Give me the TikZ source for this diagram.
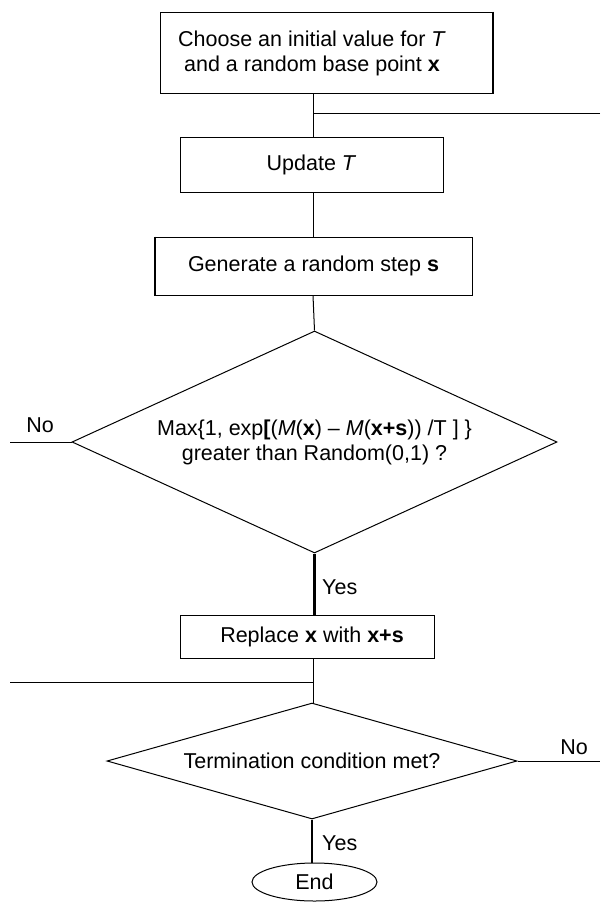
\documentclass[tikz,border=0pt]{standalone}
\usepackage{fontspec}
\setmainfont{Liberation Sans}
\usetikzlibrary{shapes.geometric}
\begin{document}
\begin{tikzpicture}[x=1pt,y=-1pt,
  every node/.style={font=\fontsize{21.5}{25}\selectfont},
  procbox/.style={draw, line width=1pt, rectangle, inner sep=0pt, align=center},
  plaintext/.style={inner sep=0pt, align=center},
  decision/.style={draw, line width=1pt, diamond, inner sep=0pt, align=center},
  term/.style={draw, line width=1pt, ellipse, inner sep=0pt},
  link/.style={line width=1pt},
  boldlink/.style={line width=2.5pt},
  heavyside/.style={line width=2pt},
  lbl/.style={inner sep=0pt, anchor=west},
  clbl/.style={inner sep=0pt}]
\useasboundingbox (0,0) rectangle (600,902);
\coordinate (spine) at (313,0);

% nodes
\node[procbox, minimum width=332pt, minimum height=81pt] (init) at (326,52.5) {};
\node[plaintext] (inittext) at (312,53)
  {Choose an initial value for \textit{T}\\and a random base point \textbf{x}};
\node[procbox, minimum width=263pt, minimum height=55pt] (upd) at (311.5,164.5)
  {Update \textit{T}};
\node[procbox, minimum width=317pt, minimum height=58pt] (gen) at (313.5,266)
  {Generate a random step \textbf{s}};
\node[decision, minimum width=485pt, minimum height=222pt, shape aspect=2.18] (acc) at (314.5,442)
  {Max\{1, exp\textbf{[}(\textit{M}(\textbf{x}) -- \textit{M}(\textbf{x+s})) /T ] \}\\greater than Random(0,1) ?};
\node[procbox, minimum width=254pt, minimum height=43pt] (rep) at (307,636.5) {};
\node[plaintext] (reptext) at (312,637) {Replace \textbf{x} with \textbf{x+s}};
\node[decision, minimum width=410pt, minimum height=116pt, shape aspect=3.5] (stop) at (312,761)
  {Termination condition met?};
\node[term, minimum width=125pt, minimum height=38pt] (end) at (314.5,882) {End};

% heavy sides (as in the original scan)
\draw[heavyside] (init.north east) -- (init.south east);
\draw[heavyside] (gen.north west) -- (gen.south west);

% free ends of the loop lines
\coordinate (loopin) at (600,113);
\coordinate (noleft) at (10,442);
\coordinate (loopin2) at (10,682);
\coordinate (noright) at (600,761);

% connectors
\draw[link] (init.south -| spine) -- (upd.north -| spine);
\draw[link] (loopin) -- (loopin -| spine);
\draw[link] (upd.south -| spine) -- (gen.north -| spine);
\draw[link] (gen.south -| spine) -- (acc.north);
\draw[link] (acc.west) -- (noleft);
\draw[boldlink] (acc.south) -- (rep.north -| acc.south);
\draw[link] (rep.south -| spine) -- (stop.north -| spine);
\draw[link] (loopin2) -- (loopin2 -| spine);
\draw[link] (stop.east) -- (noright);
\draw[boldlink] (stop.south) -- (end.north -| stop.south);

% labels
\node[clbl] (no1) at (40,425) {No};
\node[lbl] (yes1) at (322,587) {Yes};
\node[clbl] (no2) at (574,747) {No};
\node[lbl] (yes2) at (322,843) {Yes};
\end{tikzpicture}
\end{document}
